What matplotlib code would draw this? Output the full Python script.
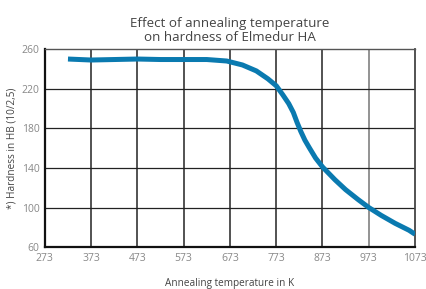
import matplotlib.pyplot as plt

# data
temp_k = [323, 373, 423, 473, 523, 573, 623, 666, 700, 730, 755, 773, 787, 800, 810, 818, 826, 835, 845, 858, 873, 900, 923, 950, 973, 1000, 1030, 1060, 1073]
hardness = [250, 249, 249.5, 250, 249.5, 249.5, 249.5, 248, 244, 238, 230, 223, 214, 205, 196, 186, 177, 168, 160, 150, 141, 128, 118, 108, 100, 92, 84, 77, 73]
x_ticks = [273, 373, 473, 573, 673, 773, 873, 973, 1073]
y_ticks = [60, 100, 140, 180, 220, 260]

plt.rcParams['font.family'] = ['Open Sans', 'DejaVu Sans']

fig = plt.figure(figsize=(4.27, 2.89), dpi=100)
ax = fig.add_axes([0.105, 0.145, 0.867, 0.685])

for t in x_ticks[1:-1]:
    c = '#8a8a8a' if t == 973 else '#444444'
    ax.axvline(t, color=c, lw=1.3, zorder=1)
for h in y_ticks[1:-1]:
    ax.axhline(h, color='#222222', lw=0.9, zorder=1)

ax.plot(temp_k, hardness, color='#0a7ab0', lw=3.6, solid_capstyle='butt',
        solid_joinstyle='round', zorder=3)

ax.set_xlim(273, 1073)
ax.set_ylim(60, 260)
ax.set_xticks(x_ticks)
ax.set_yticks(y_ticks)
ax.tick_params(length=0, labelsize=7.5, labelcolor='#888888', pad=4)

for s in ['left', 'bottom']:
    ax.spines[s].set_linewidth(1.6)
    ax.spines[s].set_color('#111111')
ax.spines['right'].set_linewidth(1.3)
ax.spines['right'].set_color('#444444')
ax.spines['top'].set_linewidth(1.0)
ax.spines['top'].set_color('#555555')

ax.set_xlabel('Annealing temperature in K', fontsize=7.2, color='#444444', labelpad=10)
ax.set_ylabel('*) Hardness in HB (10/2,5)', fontsize=7.2, color='#444444', labelpad=3)
ax.set_title('Effect of annealing temperature\non hardness of Elmedur HA', fontsize=9.6, color='#444444', pad=6, linespacing=1.1)

fig.savefig('out.png', dpi=100)
